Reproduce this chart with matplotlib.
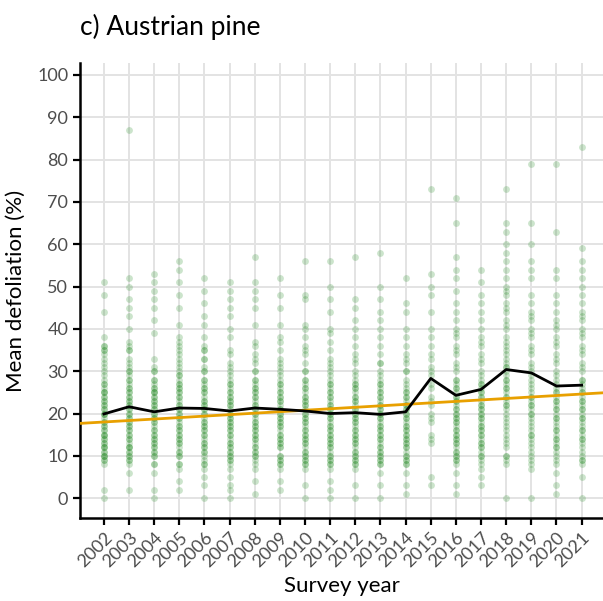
import numpy as np
import matplotlib
matplotlib.use("Agg")
import matplotlib.pyplot as plt

plt.rcParams['font.family'] = ['Lato', 'DejaVu Sans']

years = list(range(2002, 2022))

# individual plot defoliation values per survey year
defol = {
    2002: [0, 2, 8, 9, 10, 10, 11, 12, 12, 13, 14, 15, 15, 16, 17, 18, 19, 20, 20, 21, 22, 23, 24, 25, 25, 26, 27, 28, 30, 31, 32, 34, 35, 36, 38, 44, 48, 51],
    2003: [2, 6, 8, 9, 10, 11, 12, 12, 13, 14, 15, 16, 17, 18, 19, 20, 21, 22, 22, 23, 24, 25, 26, 27, 28, 29, 30, 31, 33, 35, 36, 37, 40, 43, 45, 47, 50, 52, 87],
    2004: [0, 2, 6, 8, 10, 11, 12, 13, 14, 15, 16, 17, 18, 19, 20, 21, 22, 23, 24, 25, 25, 26, 27, 28, 30, 31, 33, 39, 42, 45, 47, 49, 51, 53],
    2005: [2, 4, 7, 8, 10, 11, 12, 13, 14, 15, 16, 17, 18, 19, 20, 21, 22, 23, 24, 25, 26, 27, 28, 29, 30, 32, 34, 35, 37, 38, 41, 45, 48, 51, 54, 56],
    2006: [0, 3, 5, 7, 8, 10, 11, 12, 13, 14, 15, 16, 17, 18, 19, 20, 21, 22, 23, 24, 25, 26, 27, 28, 30, 31, 33, 35, 36, 38, 41, 43, 46, 49, 52],
    2007: [0, 2, 3, 5, 7, 8, 9, 10, 11, 12, 13, 14, 15, 16, 17, 18, 19, 20, 21, 22, 23, 24, 25, 26, 27, 28, 30, 32, 34, 35, 38, 40, 43, 45, 47, 49, 51],
    2008: [1, 4, 7, 8, 10, 11, 12, 13, 14, 15, 16, 17, 18, 19, 20, 21, 22, 23, 24, 25, 26, 27, 28, 30, 32, 34, 36, 37, 41, 45, 47, 49, 51, 57],
    2009: [2, 4, 7, 8, 9, 10, 12, 13, 14, 15, 16, 17, 18, 19, 20, 21, 22, 23, 24, 25, 26, 27, 28, 30, 31, 33, 35, 37, 38, 41, 45, 48, 52],
    2010: [0, 3, 7, 8, 9, 10, 11, 12, 13, 14, 15, 16, 17, 18, 19, 20, 21, 22, 23, 24, 25, 26, 27, 28, 30, 32, 34, 36, 38, 40, 41, 47, 48, 56],
    2011: [0, 2, 4, 7, 8, 9, 10, 11, 12, 13, 14, 15, 16, 17, 18, 19, 20, 21, 22, 23, 24, 25, 26, 27, 28, 30, 32, 33, 35, 37, 39, 40, 44, 47, 50, 56],
    2012: [0, 3, 7, 8, 9, 10, 11, 12, 13, 14, 15, 16, 17, 18, 19, 20, 21, 22, 23, 24, 25, 26, 27, 28, 30, 32, 34, 36, 38, 40, 42, 45, 47, 57],
    2013: [0, 3, 6, 8, 9, 10, 11, 12, 13, 14, 15, 16, 17, 18, 19, 20, 21, 22, 23, 24, 25, 26, 27, 28, 30, 32, 34, 36, 38, 40, 42, 44, 47, 50, 58],
    2014: [1, 3, 6, 8, 9, 10, 11, 12, 13, 14, 15, 16, 17, 18, 19, 20, 21, 22, 23, 24, 25, 26, 28, 30, 32, 34, 36, 38, 40, 44, 46, 52],
    2015: [3, 5, 13, 15, 18, 20, 22, 24, 26, 29, 31, 33, 36, 38, 40, 44, 48, 50, 53, 73],
    2016: [1, 3, 6, 8, 9, 10, 11, 12, 13, 14, 15, 16, 17, 18, 19, 20, 21, 22, 23, 24, 25, 26, 27, 28, 30, 32, 34, 36, 38, 40, 42, 44, 46, 49, 52, 54, 57, 65, 71],
    2017: [3, 5, 7, 8, 10, 11, 12, 13, 14, 15, 16, 17, 18, 19, 20, 21, 22, 23, 24, 25, 26, 27, 28, 30, 32, 34, 36, 38, 40, 42, 44, 46, 48, 51, 54],
    2018: [0, 8, 9, 10, 12, 13, 15, 16, 18, 20, 21, 22, 23, 24, 25, 26, 27, 28, 30, 31, 32, 33, 35, 36, 38, 40, 42, 44, 46, 48, 50, 52, 54, 56, 58, 60, 63, 65, 73],
    2019: [0, 7, 8, 10, 12, 14, 15, 16, 18, 19, 20, 21, 22, 23, 24, 25, 26, 28, 30, 32, 34, 36, 38, 40, 42, 44, 46, 48, 52, 54, 56, 60, 65, 79],
    2020: [1, 3, 6, 8, 10, 11, 12, 13, 14, 15, 16, 18, 19, 20, 21, 22, 23, 24, 25, 26, 28, 30, 32, 34, 36, 38, 40, 42, 44, 46, 48, 52, 54, 63, 79],
    2021: [0, 5, 8, 9, 10, 12, 13, 14, 15, 16, 18, 19, 20, 21, 22, 23, 24, 25, 26, 27, 28, 30, 32, 34, 36, 38, 40, 42, 44, 46, 48, 50, 52, 54, 56, 59, 83],
}

# further plots in the crowded middle of each column
defol_core = {
    2002: [9, 10, 11, 12, 13, 14, 15, 16, 17, 18, 20, 21, 22, 23, 24, 25, 27, 29, 33, 35, 36],
    2003: [9, 10, 11, 12, 14, 15, 16, 17, 18, 19, 20, 21, 23, 24, 25, 26, 28, 30, 32, 35],
    2004: [8, 10, 11, 12, 13, 14, 15, 16, 18, 19, 20, 21, 22, 23, 24, 25, 26, 28, 30],
    2005: [8, 10, 11, 13, 14, 15, 16, 17, 19, 20, 21, 22, 24, 25, 26, 27, 29, 31, 33, 36],
    2006: [8, 9, 11, 12, 13, 15, 16, 17, 18, 20, 21, 22, 23, 25, 26, 28, 30, 33, 35],
    2007: [9, 10, 11, 12, 13, 15, 16, 17, 18, 19, 20, 22, 23, 24, 25, 27, 29, 31],
    2008: [9, 10, 11, 12, 14, 15, 16, 17, 18, 20, 21, 22, 24, 25, 26, 28, 30, 33],
    2009: [8, 9, 10, 12, 13, 14, 15, 17, 18, 19, 20, 21, 23, 24, 25, 27, 29, 32],
    2010: [8, 9, 10, 11, 13, 14, 15, 16, 18, 19, 20, 22, 23, 24, 26, 28, 30, 35],
    2011: [8, 9, 10, 12, 13, 14, 15, 16, 17, 19, 20, 21, 22, 24, 25, 27, 29, 31],
    2012: [8, 9, 10, 11, 13, 14, 15, 16, 18, 19, 20, 21, 23, 24, 26, 27, 29, 33],
    2013: [8, 9, 10, 11, 12, 14, 15, 16, 17, 19, 20, 21, 22, 24, 25, 27, 29, 32],
    2014: [8, 9, 10, 12, 13, 14, 15, 16, 17, 19, 20, 21, 22, 24, 25, 27, 30, 33],
    2015: [14, 19, 23, 27, 30, 34],
    2016: [9, 10, 11, 13, 14, 15, 16, 18, 19, 20, 21, 23, 24, 26, 28, 31, 35, 39],
    2017: [9, 10, 12, 13, 15, 16, 17, 19, 20, 21, 22, 24, 25, 27, 29, 33, 37],
    2018: [10, 14, 17, 19, 22, 24, 26, 28, 29, 31, 34, 37, 41, 45, 49],
    2019: [9, 11, 13, 15, 17, 20, 22, 24, 27, 29, 31, 35, 39, 43],
    2020: [9, 12, 14, 16, 17, 19, 21, 23, 25, 27, 29, 33, 37, 41],
    2021: [9, 11, 14, 16, 17, 19, 21, 23, 25, 28, 31, 35, 39, 43],
}

# yearly mean defoliation
mean_defol = [19.9, 21.6, 20.4, 21.3, 21.2, 20.6, 21.3, 21.0, 20.6, 20.0,
              20.2, 19.8, 20.4, 28.3, 24.3, 25.7, 30.4, 29.6, 26.5, 26.7]

# linear trend, two points on the fitted line
trend_years = [2002, 2021]
trend_vals = [18.0, 24.6]

fig = plt.figure(figsize=(6.03, 6.01), dpi=100)
ax = fig.add_axes([0.1327, 0.138, 0.8673, 0.757])

for yr in years:
    vals = defol[yr] + defol_core[yr]
    ax.scatter([yr] * len(vals), vals, s=24, color="#228B22", alpha=0.23,
               linewidths=0, zorder=2)

ax.plot(years, mean_defol, color="black", lw=2.0, zorder=4)
ax.axline((trend_years[0], trend_vals[0]), (trend_years[1], trend_vals[1]),
          color="#E8A000", lw=2.0, zorder=3)

ax.set_xlim(2001.05, 2021.85)
ax.set_ylim(-4.7, 102.8)
ax.set_xticks(years)
ax.set_xticklabels([str(y) for y in years], rotation=45, ha="right",
                   rotation_mode="anchor")
ax.set_yticks(range(0, 101, 10))

ax.grid(True, color="#e3e3e3", lw=1.4, zorder=0)
ax.set_axisbelow(True)
for s in ["top", "right"]:
    ax.spines[s].set_visible(False)
for s in ["left", "bottom"]:
    ax.spines[s].set_linewidth(1.8)
    ax.spines[s].set_color("black")
ax.tick_params(axis="both", length=5, width=1.6, color="black",
               labelcolor="#4d4d4d", labelsize=13)

ax.set_xlabel("Survey year", fontsize=16, labelpad=4)
ax.set_ylabel("Mean defoliation (%)", fontsize=16, labelpad=8)
ax.set_title("c) Austrian pine", loc="left", fontsize=19, pad=20)

fig.savefig("out.png", dpi=100)
